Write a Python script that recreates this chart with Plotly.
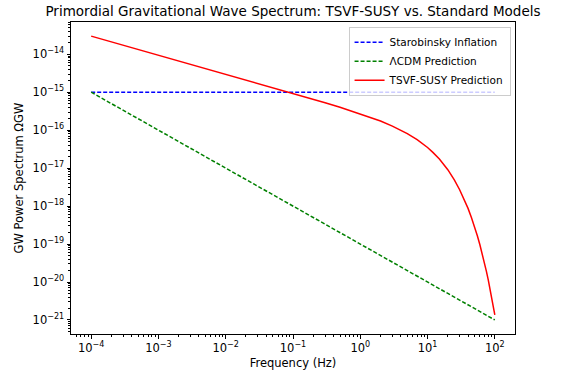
import plotly.graph_objects as go

# Data
freq_line = [1e-4, 1e2]
starobinsky = [1e-15, 1e-15]
lcdm = [1e-15, 1e-21]

freq_tsvf = [1e-4, 1e-3, 1e-2, 1e-1, 0.3, 0.5, 1, 1.5, 2, 3, 4, 5, 7, 10, 12, 15,
             20, 25, 30, 35, 40, 45, 50, 55, 60, 65, 70, 75, 80, 85, 90, 95, 100]
tsvf = [3.0e-14, 9.5e-15, 3.0e-15, 9.4e-16, 5.3e-16, 4.0e-16, 2.7e-16, 2.1e-16,
        1.74e-16, 1.28e-16, 1.0e-16, 8.1e-17, 5.6e-17, 3.5e-17, 2.6e-17, 1.73e-17,
        9.1e-18, 4.9e-18, 2.7e-18, 1.53e-18, 8.7e-19, 4.96e-19, 2.86e-19, 1.65e-19,
        9.6e-20, 5.6e-20, 3.27e-20, 1.9e-20, 1.12e-20, 6.6e-21, 3.9e-21, 2.3e-21, 1.36e-21]

x_exponents = [-4, -3, -2, -1, 0, 1, 2]
y_exponents = [-21, -20, -19, -18, -17, -16, -15, -14]

def tick_text(e):
    return "10<sup>%s</sup>" % (str(e).replace("-", "\u2212"))

x_tickvals = [10.0 ** e for e in x_exponents]
x_ticktext = [tick_text(e) for e in x_exponents]
y_tickvals = [10.0 ** e for e in y_exponents]
y_ticktext = [tick_text(e) for e in y_exponents]

FONT = "DejaVu Sans"

fig = go.Figure()
fig.add_trace(go.Scatter(x=freq_line, y=starobinsky, mode="lines", name="Starobinsky Inflation",
                         line=dict(color="#0000ff", width=1.5, dash="4px,2px")))
fig.add_trace(go.Scatter(x=freq_line, y=lcdm, mode="lines", name="ΛCDM Prediction",
                         line=dict(color="#008000", width=1.5, dash="4px,2px")))
fig.add_trace(go.Scatter(x=freq_tsvf, y=tsvf, mode="lines", name="TSVF-SUSY Prediction",
                         line=dict(color="#ff0000", width=1.5)))

axis_common = dict(
    type="log", showgrid=False, zeroline=False, showline=True, mirror=True,
    linecolor="black", linewidth=1, ticks="outside", ticklen=3.5, tickwidth=0.8,
    tickcolor="black",
    tickfont=dict(family=FONT, size=11.5, color="black"),
    minor=dict(ticks="outside", ticklen=2, tickwidth=0.6, tickcolor="black", dtick="D1"),
)

fig.update_layout(
    width=561, height=379,
    margin=dict(l=71, r=46, t=22, b=43),
    paper_bgcolor="white", plot_bgcolor="white",
    font=dict(family=FONT, size=11, color="black"),
    title=dict(text="Primordial Gravitational Wave Spectrum: TSVF-SUSY vs. Standard Models",
               x=(71 + 515) / 2 / 561, xanchor="center", y=1 - 11 / 379, yanchor="middle",
               font=dict(family=FONT, size=13.5, color="black")),
    xaxis=dict(axis_common, range=[-4.3, 2.3], tickvals=x_tickvals, ticktext=x_ticktext,
               title=dict(text="Frequency (Hz)", standoff=4,
                          font=dict(family=FONT, size=11.5, color="black"))),
    yaxis=dict(axis_common, range=[-21.37, -13.15], tickvals=y_tickvals, ticktext=y_ticktext,
               title=dict(text="GW Power Spectrum ΩGW", standoff=6,
                          font=dict(family=FONT, size=11.5, color="black"))),
    legend=dict(x=0.99, y=0.985, xanchor="right", yanchor="top",
                bgcolor="rgba(255,255,255,0.8)", bordercolor="#cccccc", borderwidth=1,
                font=dict(family=FONT, size=10.5, color="black"),
                tracegroupgap=0, itemwidth=30),
    showlegend=True,
)

fig.write_html("out.html")
